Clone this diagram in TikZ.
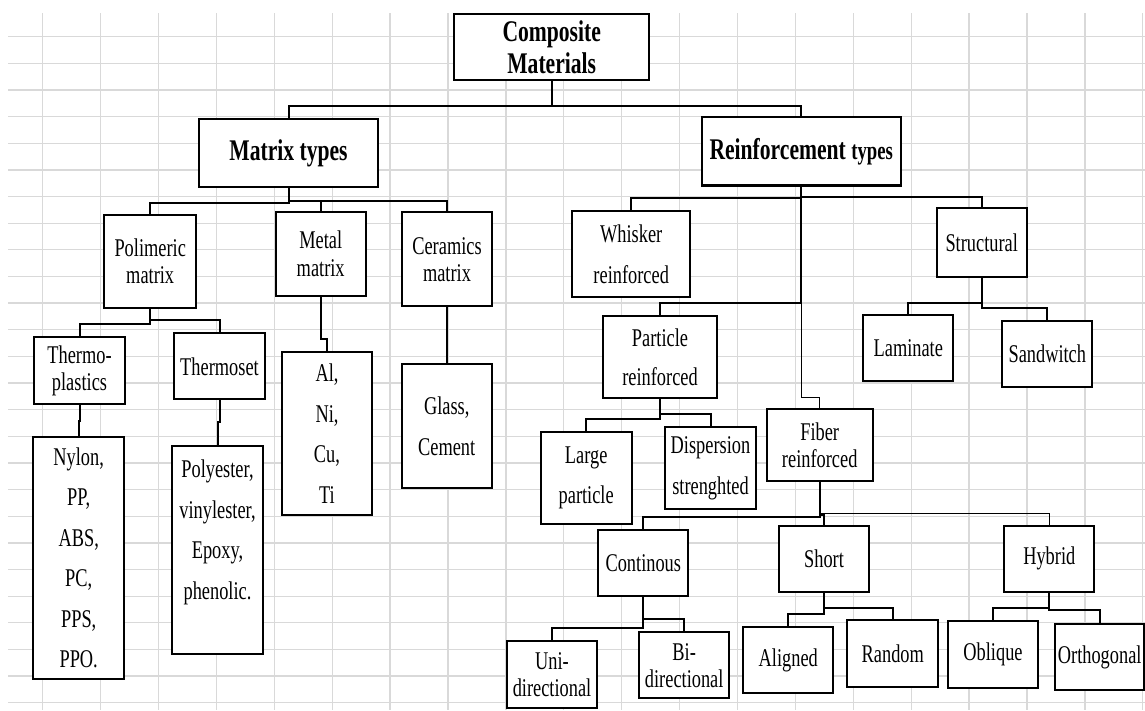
\documentclass[tikz,border=0pt]{standalone}
\usepackage{fontspec}
\setmainfont{Liberation Serif}[FakeStretch=0.72]
\definecolor{gridgray}{RGB}{217,217,217}
\tikzset{
  box/.style={draw, line width=2.2pt, fill=white, inner sep=0pt, align=center,
              font=\fontsize{25.5}{27}\selectfont},
  loose/.style={font=\fontsize{25.5}{40.5}\selectfont},
  head/.style={font=\fontsize{30}{32}\selectfont\bfseries},
  conn/.style={line width=2pt},
  thinconn/.style={line width=1.1pt},
  gridline/.style={draw=gridgray, line width=1.3pt}
}
\begin{document}
\begin{tikzpicture}[x=1pt,y=-1pt]
\useasboundingbox (0,0) rectangle (1145,710);
\fill[white] (0,0) rectangle (1145,710);
% spreadsheet grid
\foreach \i in {0,...,19} \draw[gridline] ({42.7+57.9*\i},13) -- ({42.7+57.9*\i},710);
\foreach \j in {0,...,25} \draw[gridline] (8,{36.7+26.64*\j}) -- (1145,{36.7+26.64*\j});

% level 0/1
\node[box, head, minimum width=195.3pt, minimum height=66pt] (comp) at (551.7,47) {Composite\\Materials};
\node[box, head, minimum width=178.4pt, minimum height=68.3pt] (mat) at (288.5,153.2) {Matrix types};
\node[box, head, minimum width=199pt, minimum height=68.2pt] (rei) at (801.2,151.4) {Reinforcement {\fontsize{26}{28}\selectfont types}};

% matrix branch
\node[box, minimum width=91.7pt, minimum height=93.3pt] (pol) at (150.2,261.7) {Polimeric\\matrix};
\node[box, font=\fontsize{25.5}{28}\selectfont, minimum width=90pt, minimum height=83.7pt] (met) at (320.7,254.2) {Metal\\matrix};
\node[box, minimum width=89.4pt, minimum height=93.7pt] (cer) at (447,259.2) {Ceramics\\matrix};
\node[box, loose, minimum width=89.4pt, minimum height=163.3pt] (al) at (327,433.4) {Al,\\Ni,\\Cu,\\Ti};
\node[box, loose, minimum width=90pt, minimum height=124pt] (gla) at (446.7,426.3) {Glass,\\Cement};
\node[box, minimum width=91pt, minimum height=66.7pt] (thp) at (79.5,370.7) {Thermo-\\plastics};
\node[box, minimum width=91pt, minimum height=66pt] (ths) at (219.5,366.3) {Thermoset};
\node[box, loose, minimum width=90.7pt, minimum height=242.3pt] (nyl) at (78.7,557.9) {Nylon,\\PP,\\ABS,\\PC,\\PPS,\\PPO.};
\node[box, loose, minimum width=90.4pt, minimum height=208.6pt] (pes) at (217.5,550) {Polyester,\\vinylester,\\Epoxy,\\phenolic.\\\mbox{}};

% reinforcement branch
\node[box, loose, minimum width=117.7pt, minimum height=86.3pt] (whi) at (631.2,254.2) {Whisker\\reinforced};
\node[box, font=\fontsize{25.5}{39}\selectfont, minimum width=113.4pt, minimum height=82.3pt] (par) at (660,357.2) {Particle\\reinforced};
\node[box, minimum width=90pt, minimum height=68.4pt] (str) at (981.7,242.5) {Structural};
\node[box, minimum width=90pt, minimum height=66pt] (lam) at (908.3,348) {Laminate};
\node[box, minimum width=90pt, minimum height=66pt] (san) at (1047.3,353.7) {Sandwitch};
\node[box, loose, minimum width=91pt, minimum height=92.3pt] (lar) at (586.2,477.8) {Large\\particle};
\node[box, loose, minimum width=91pt, minimum height=82pt] (dis) at (710.5,468.3) {Dispersion\\strenghted};
\node[box, minimum width=106pt, minimum height=71.4pt] (fib) at (819.7,445) {Fiber\\reinforced};
\node[box, minimum width=90pt, minimum height=66pt] (con) at (643.3,563) {Continous};
\node[box, minimum width=90pt, minimum height=66pt] (sho) at (824,558.7) {Short};
\node[box, minimum width=90pt, minimum height=66pt] (hyb) at (1049.3,558.7) {Hybrid};
\node[box, minimum width=90pt, minimum height=66.6pt] (ali) at (788.3,660) {Aligned};
\node[box, minimum width=91pt, minimum height=66.7pt] (ran) at (892.8,653.3) {Random};
\node[box, minimum width=89.4pt, minimum height=67.6pt] (obl) at (993,654.5) {Oblique};
\node[box, minimum width=89.3pt, minimum height=66pt] (ort) at (1099.7,657) {Orthogonal};
\node[box, minimum width=90.6pt, minimum height=67.3pt] (uni) at (552,674.7) {Uni-\\directional};
\node[box, minimum width=89.7pt, minimum height=66pt] (bi) at (684.2,665.3) {Bi-\\directional};

% connectors
\draw[conn] (comp.south) -- ++(0,25) -| (mat.north);
\draw[conn] (comp.south) -- ++(0,25) -| (rei.north);
\draw[conn] (mat.south) -- ++(0,14.4) -| (pol.north);
\draw[conn] (mat.south) -- ++(0,12.8) -| (met.north);
\draw[conn] (mat.south) -- ++(0,12.8) -| (cer.north);
\draw[conn] (pol.south) -- ++(0,14.4) -| (thp.north);
\draw[conn] (pol.south) -- ++(0,11) -| (ths.north);
\draw[conn] (thp.south) -- ++(0,16) -| (nyl.north);
\draw[conn] (ths.south) -- ++(0,22) -| (pes.north);
\draw[conn] (met.south) -- ++(0,42) -| (al.north);
\draw[conn] (cer.south) -- ++(0,29) -| (gla.north);

\draw[thinconn] (rei.south) -- ++(0,211) -| (fib.north);
\draw[conn] (rei.south) -- ++(0,11) -| (whi.north);
\draw[conn] (rei.south) -- ++(0,10) -| (str.north);
\draw[conn] (rei.south) -- ++(0,116) -| (par.north);
\draw[conn] (str.south) -- ++(0,25) -| (lam.north);
\draw[conn] (str.south) -- ++(0,30.6) -| (san.north);
\draw[conn] (par.south) -- ++(0,20) -| (lar.north);
\draw[conn] (par.south) -- ++(0,15) -| (dis.north);
\draw[thinconn] (fib.south) -- ++(0,31.6) -| (hyb.north);
\draw[conn] (fib.south) -- ++(0,35.3) -| (con.north);
\draw[conn] (fib.south) -- ++(0,33) -| (sho.north);
\draw[conn] (sho.south) -- ++(0,15) -| (ran.north);
\draw[conn] (sho.south) -- ++(0,21) -| (ali.north);
\draw[conn] (hyb.south) -- ++(0,15) -| (obl.north);
\draw[conn] (hyb.south) -- ++(0,17.6) -| (ort.north);
\draw[conn] (con.south) -- ++(0,22.3) -| (bi.north);
\draw[conn] (con.south) -- ++(0,31.3) -| (uni.north);
\end{tikzpicture}
\end{document}
